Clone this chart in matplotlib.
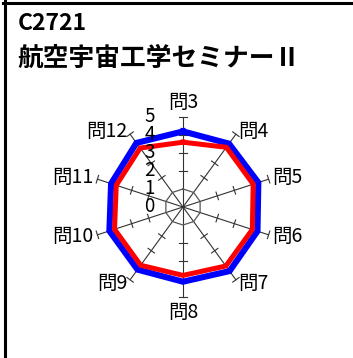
import numpy as np
import matplotlib
matplotlib.use("Agg")
import matplotlib.pyplot as plt
from matplotlib.lines import Line2D

plt.rcParams['font.family'] = ['Noto Sans CJK JP', 'DejaVu Sans']

# datos
codigo = "C2721"
titulo = "航空宇宙工学セミナーⅡ"
preguntas = ["問3", "問4", "問5", "問6", "問7", "問8", "問9", "問10", "問11", "問12"]
serie_azul = [4.2, 4.35, 4.4, 4.35, 4.4, 4.15, 4.3, 4.3, 4.2, 4.4]
serie_roja = [3.6, 4.1, 4.1, 4.05, 4.05, 3.8, 4.0, 4.0, 3.9, 4.05]
escala = [0, 1, 2, 3, 4, 5]

W, H = 353, 358
px = 18.0  # pixeles por unidad
cx, cy = 183, 207

fig = plt.figure(figsize=(W / 100, H / 100), dpi=100)
ax = fig.add_axes([0, 0, 1, 1])
ax.set_xlim(-cx / px, (W - cx) / px)
ax.set_ylim(-(H - cy) / px, cy / px)
ax.axis('off')

n = len(preguntas)
ang = np.pi / 2 - np.arange(n) * 2 * np.pi / n
rmax = escala[-1]

# rayos y marcas
for a in ang:
    c, s = np.cos(a), np.sin(a)
    ax.plot([0, rmax * c], [0, rmax * s], color='#333333', lw=0.8, zorder=1)
    for k in escala[2:]:
        d = 0.22
        ax.plot([k * c - d * s, k * c + d * s], [k * s + d * c, k * s - d * c],
                color='#333333', lw=0.8, zorder=1)

# circulo interior (valor 1)
aa = np.append(ang, ang[0])
ax.plot(escala[1] * np.cos(aa), escala[1] * np.sin(aa), color='#555555', lw=0.9, zorder=1)

# series
va = np.append(serie_azul, serie_azul[0])
vr = np.append(serie_roja, serie_roja[0])
ax.plot(va * np.cos(aa), va * np.sin(aa), color='#0000FF', lw=4.4,
        solid_joinstyle='miter', zorder=2)
ax.plot(vr * np.cos(aa), vr * np.sin(aa), color='#FF0000', lw=3.6,
        solid_joinstyle='miter', zorder=3)

# etiquetas de escala
for v in escala:
    ax.text(-1.86, v, str(v), fontsize=13.5, ha='center', va='center', zorder=5)

# etiquetas de preguntas
for a, p in zip(ang, preguntas):
    c, s = np.cos(a), np.sin(a)
    if abs(c) < 0.1:
        r = 5.25
        ax.text(r * c, r * s, p, fontsize=14, ha='center',
                va='bottom' if s > 0 else 'top')
    else:
        r = 5.22
        ax.text(r * c, r * s, p, fontsize=14, ha='left' if c > 0 else 'right', va='center')

# titulos
fig.text(18 / W, 1 - 23.5 / H, codigo, fontsize=16.5, fontweight='bold', ha='left', va='center')
fig.text(17 / W, 1 - 58 / H, titulo, fontsize=18.5, fontweight='bold', ha='left', va='center')

# marco
fig.add_artist(Line2D([4.5 / W, 4.5 / W], [0, 1 - 1 / H], color='black', lw=2.2,
                      transform=fig.transFigure))
fig.add_artist(Line2D([3 / W, 1], [1 - 2.5 / H, 1 - 2.5 / H], color='black', lw=2.2,
                      transform=fig.transFigure))

fig.savefig("out.png", dpi=100)
